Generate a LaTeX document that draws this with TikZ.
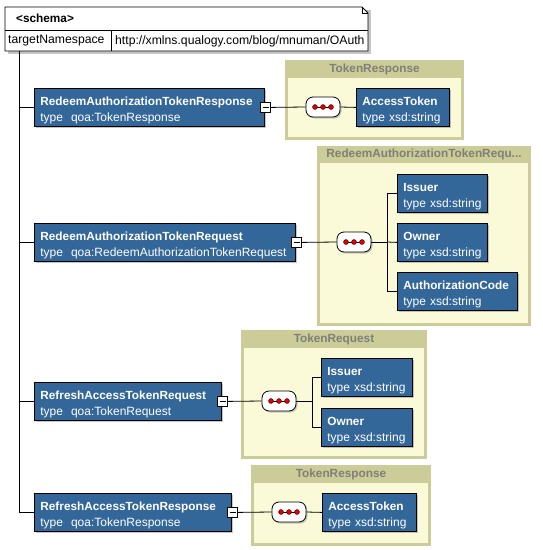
\documentclass[tikz,border=0pt]{standalone}
\usepackage{fontspec}
\setmainfont{Liberation Sans}
\usetikzlibrary{shadows,calc}
\definecolor{elemblue}{HTML}{336699}
\definecolor{khaki}{HTML}{CCCC99}
\definecolor{paleyel}{HTML}{FAFAD8}
\definecolor{hdrtext}{HTML}{7F7F78}
\definecolor{dotred}{HTML}{EE0000}
\newcommand{\bt}[1]{\mbox{\rule{0pt}{14.5pt}\fontsize{11.8}{16}\selectfont\bfseries #1}}
\newcommand{\tl}[1]{\mbox{#1}}
\tikzset{
  x=1pt, y=-1pt,
  elem/.style={draw=black, line width=0.8pt, fill=elemblue, text=white, anchor=north west,
    align=left, inner xsep=6pt, inner ysep=0pt, minimum height=38pt,
    font=\fontsize{12}{16}\selectfont,
    drop shadow={shadow xshift=2pt, shadow yshift=-2pt, opacity=0.45, fill=gray}},
  seqbox/.style={draw=black, line width=0.8pt, fill=white, rounded corners=7pt,
    minimum width=34pt, minimum height=20pt, inner sep=0pt,
    drop shadow={shadow xshift=1.5pt, shadow yshift=-1.5pt, opacity=0.4, fill=gray}},
  minusbox/.style={draw=black, line width=0.8pt, fill=white, minimum size=10pt, inner sep=0pt},
  conn/.style={draw=black, line width=0.8pt},
  grpouter/.style={fill=khaki, draw=none},
  grpinner/.style={fill=paleyel, draw=none},
  grptitle/.style={text=hdrtext, font=\fontsize{11.8}{13}\selectfont\bfseries, inner sep=0pt},
  plain/.style={font=\fontsize{12.2}{14}\selectfont, inner sep=0pt, anchor=west},
}
\newcommand{\seqdots}[1]{%
  \draw[line width=0.8pt] ($(#1)+(-8,0)$) -- ($(#1)+(8,0)$);
  \foreach \dx in {-8,0,8}{\filldraw[fill=dotred, draw=black!70!red, line width=0.6pt] ($(#1)+(\dx,0)$) circle (2.4pt);}
}
\newcommand{\grp}[6]{% name, x1,y1,x2,y2, header bottom
  \fill[grpouter] (#2,#3) rectangle (#4,#5);
  \fill[grpinner] (#2+3,#6) rectangle (#4-3,#5-3);
  \coordinate (#1) at ($(#2,#3)!0.5!(#4,#6)$);
}
\begin{document}
\begin{tikzpicture}
\useasboundingbox (0,0) rectangle (542,550);
\fill[white] (0,0) rectangle (542,550);

% ---------- schema box ----------
\fill[gray, opacity=0.45] (8,10) -- (371,10) -- (371,54) -- (8,54) -- cycle;
\filldraw[fill=white, draw=black, line width=0.8pt] (5,7) -- (362,7) -- (368,13) -- (368,51) -- (5,51) -- cycle;
\draw[line width=0.6pt] (362,7) -- (362,13) -- (368,13);
\draw[line width=0.8pt] (5,30) -- (368,30);
\draw[line width=0.8pt] (111,30) -- (111,51);
\node[plain, font=\fontsize{11.8}{13}\selectfont\bfseries] (schemahdr) at (16,18.5) {<schema>};
\node[plain] (tns) at (8,41) {targetNamespace};
\node[plain] (tnsval) at (115,41) {http://xmlns.qualogy.com/blog/mnuman/OAuth};
\coordinate (trunk) at (19,51);

% ---------- groups ----------
\grp{g1}{285}{60}{464}{140}{78}
\grp{g2}{317}{146}{531}{326}{163}
\grp{g3}{241}{330}{427}{459}{348}
\grp{g4}{251}{465}{431}{546}{483}
\node[grptitle] (g1t) at (g1) {TokenResponse};
\node[grptitle] (g2t) at (g2) {RedeemAuthorizationTokenRequ...};
\node[grptitle] (g3t) at (g3) {TokenRequest};
\node[grptitle] (g4t) at (g4) {TokenResponse};

% ---------- top-level elements ----------
\node[elem, text width=218pt] (e1) at (34,88) {\bt{RedeemAuthorizationTokenResponse}\\\tl{type\ \ qoa:TokenResponse}};
\node[elem, text width=249pt] (e2) at (34,223) {\bt{RedeemAuthorizationTokenRequest}\\\tl{type\ \ qoa:RedeemAuthorizationTokenRequest}};
\node[elem, text width=175pt] (e3) at (34,382) {\bt{RefreshAccessTokenRequest}\\\tl{type\ \ qoa:TokenRequest}};
\node[elem, text width=185pt] (e4) at (34,493) {\bt{RefreshAccessTokenResponse}\\\tl{type\ \ qoa:TokenResponse}};

% ---------- child elements ----------
\node[elem, text width=81pt] (at1) at (356,88) {\bt{AccessToken}\\\tl{type xsd:string}};
\node[elem, text width=78pt] (is2) at (397,174) {\bt{Issuer}\\\tl{type xsd:string}};
\node[elem, text width=78pt] (ow2) at (397,223) {\bt{Owner}\\\tl{type xsd:string}};
\node[elem, text width=108pt] (ac2) at (397,272) {\bt{AuthorizationCode}\\\tl{type xsd:string}};
\node[elem, text width=79pt] (is3) at (321,358) {\bt{Issuer}\\\tl{type xsd:string}};
\node[elem, text width=79pt] (ow3) at (321,408) {\bt{Owner}\\\tl{type xsd:string}};
\node[elem, text width=82pt] (at4) at (322,493) {\bt{AccessToken}\\\tl{type xsd:string}};

% ---------- trunk ----------
\draw[conn] (trunk) -- (trunk |- e4.west);
\foreach \e in {e1,e2,e3,e4}{\draw[conn] (trunk |- \e.west) -- (\e.west);}

% ---------- sequence compositors ----------
\node[seqbox] (s1) at (323,107) {};
\node[seqbox] (s2) at (354,242) {};
\node[seqbox] (s3) at (279,401) {};
\node[seqbox] (s4) at (289,512) {};

% minus boxes
\node[minusbox] (m1) at ($(e1.east)+(1,0)$) {};
\node[minusbox] (m2) at ($(e2.east)+(1,0)$) {};
\node[minusbox] (m3) at ($(e3.east)+(1,0)$) {};
\node[minusbox] (m4) at ($(e4.east)+(1,0)$) {};
\foreach \m in {m1,m2,m3,m4}{\draw[line width=0.8pt] ($(\m.center)+(-3,0)$) -- ($(\m.center)+(3,0)$);}

% connectors element -> sequence
\draw[conn] (m1.east) -- (s1.west);
\draw[conn] (m2.east) -- (s2.west);
\draw[conn] (m3.east) -- (s3.west);
\draw[conn] (m4.east) -- (s4.west);

% sequence -> children
\draw[conn] (s1.east) -- (at1.west);
\coordinate (b2) at (387,242);
\draw[conn] (s2.east) -- (b2);
\draw[conn] (b2) |- (is2.west);
\draw[conn] (b2) -- (ow2.west);
\draw[conn] (b2) |- (ac2.west);
\coordinate (b3) at (312,401);
\draw[conn] (s3.east) -- (b3);
\draw[conn] (b3) |- (is3.west);
\draw[conn] (b3) |- (ow3.west);
\draw[conn] (s4.east) -- (at4.west);

\seqdots{s1}
\seqdots{s2}
\seqdots{s3}
\seqdots{s4}
\end{tikzpicture}
\end{document}
